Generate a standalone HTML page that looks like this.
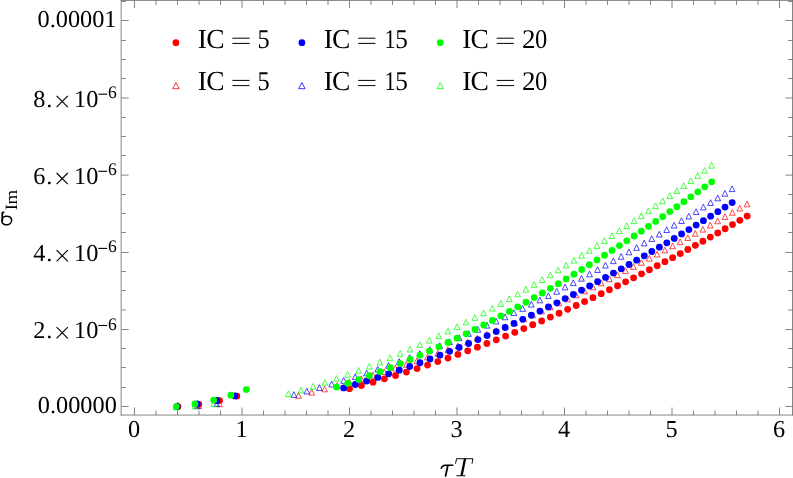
<!DOCTYPE html><html><head><meta charset="utf-8"><title>sigma_Im vs tau T</title><style>html,body{margin:0;padding:0;background:#fff}svg{display:block}svg{will-change:transform}text{text-rendering:geometricPrecision;font-family:"Liberation Serif",serif;fill:#000}</style></head><body>
<svg width="793" height="478" viewBox="0 0 793 478">
<rect width="793" height="478" fill="#fff"/>
<g>
<path d="M177.90 402.35L180.75 408.05L175.05 408.05Z" fill="none" stroke="#ff0000" stroke-width="0.72"/>
<path d="M198.80 402.95L201.65 408.65L195.95 408.65Z" fill="none" stroke="#ff0000" stroke-width="0.72"/>
<path d="M219.50 400.95L222.35 406.65L216.65 406.65Z" fill="none" stroke="#ff0000" stroke-width="0.72"/>
<path d="M298.50 392.64L301.35 398.34L295.65 398.34Z" fill="none" stroke="#ff0000" stroke-width="0.72"/>
<path d="M311.76 389.43L314.61 395.13L308.91 395.13Z" fill="none" stroke="#ff0000" stroke-width="0.72"/>
<path d="M324.65 386.14L327.50 391.84L321.80 391.84Z" fill="none" stroke="#ff0000" stroke-width="0.72"/>
<path d="M337.18 382.78L340.03 388.48L334.33 388.48Z" fill="none" stroke="#ff0000" stroke-width="0.72"/>
<path d="M349.40 379.37L352.25 385.07L346.55 385.07Z" fill="none" stroke="#ff0000" stroke-width="0.72"/>
<path d="M361.31 375.90L364.16 381.60L358.46 381.60Z" fill="none" stroke="#ff0000" stroke-width="0.72"/>
<path d="M372.93 372.39L375.78 378.09L370.08 378.09Z" fill="none" stroke="#ff0000" stroke-width="0.72"/>
<path d="M384.30 368.84L387.15 374.54L381.45 374.54Z" fill="none" stroke="#ff0000" stroke-width="0.72"/>
<path d="M395.41 365.25L398.26 370.95L392.56 370.95Z" fill="none" stroke="#ff0000" stroke-width="0.72"/>
<path d="M406.30 361.62L409.15 367.32L403.45 367.32Z" fill="none" stroke="#ff0000" stroke-width="0.72"/>
<path d="M416.98 357.96L419.83 363.66L414.13 363.66Z" fill="none" stroke="#ff0000" stroke-width="0.72"/>
<path d="M427.45 354.27L430.30 359.97L424.60 359.97Z" fill="none" stroke="#ff0000" stroke-width="0.72"/>
<path d="M437.74 350.56L440.59 356.26L434.89 356.26Z" fill="none" stroke="#ff0000" stroke-width="0.72"/>
<path d="M447.86 346.81L450.71 352.51L445.01 352.51Z" fill="none" stroke="#ff0000" stroke-width="0.72"/>
<path d="M457.82 343.05L460.67 348.75L454.97 348.75Z" fill="none" stroke="#ff0000" stroke-width="0.72"/>
<path d="M467.62 339.25L470.47 344.95L464.77 344.95Z" fill="none" stroke="#ff0000" stroke-width="0.72"/>
<path d="M477.28 335.44L480.13 341.14L474.43 341.14Z" fill="none" stroke="#ff0000" stroke-width="0.72"/>
<path d="M486.80 331.60L489.65 337.30L483.95 337.30Z" fill="none" stroke="#ff0000" stroke-width="0.72"/>
<path d="M496.20 327.74L499.05 333.44L493.35 333.44Z" fill="none" stroke="#ff0000" stroke-width="0.72"/>
<path d="M505.48 323.86L508.33 329.56L502.63 329.56Z" fill="none" stroke="#ff0000" stroke-width="0.72"/>
<path d="M514.65 319.96L517.50 325.66L511.80 325.66Z" fill="none" stroke="#ff0000" stroke-width="0.72"/>
<path d="M523.71 316.04L526.56 321.74L520.86 321.74Z" fill="none" stroke="#ff0000" stroke-width="0.72"/>
<path d="M532.66 312.10L535.51 317.80L529.81 317.80Z" fill="none" stroke="#ff0000" stroke-width="0.72"/>
<path d="M541.53 308.15L544.38 313.85L538.68 313.85Z" fill="none" stroke="#ff0000" stroke-width="0.72"/>
<path d="M550.29 304.17L553.14 309.87L547.44 309.87Z" fill="none" stroke="#ff0000" stroke-width="0.72"/>
<path d="M558.97 300.18L561.82 305.88L556.12 305.88Z" fill="none" stroke="#ff0000" stroke-width="0.72"/>
<path d="M567.56 296.18L570.41 301.88L564.71 301.88Z" fill="none" stroke="#ff0000" stroke-width="0.72"/>
<path d="M576.07 292.16L578.92 297.86L573.22 297.86Z" fill="none" stroke="#ff0000" stroke-width="0.72"/>
<path d="M584.50 288.12L587.35 293.82L581.65 293.82Z" fill="none" stroke="#ff0000" stroke-width="0.72"/>
<path d="M592.85 284.08L595.70 289.78L590.00 289.78Z" fill="none" stroke="#ff0000" stroke-width="0.72"/>
<path d="M601.13 280.02L603.98 285.72L598.28 285.72Z" fill="none" stroke="#ff0000" stroke-width="0.72"/>
<path d="M609.33 275.95L612.18 281.65L606.48 281.65Z" fill="none" stroke="#ff0000" stroke-width="0.72"/>
<path d="M617.46 271.87L620.31 277.57L614.61 277.57Z" fill="none" stroke="#ff0000" stroke-width="0.72"/>
<path d="M625.52 267.77L628.37 273.47L622.67 273.47Z" fill="none" stroke="#ff0000" stroke-width="0.72"/>
<path d="M633.51 263.68L636.36 269.38L630.66 269.38Z" fill="none" stroke="#ff0000" stroke-width="0.72"/>
<path d="M641.44 259.57L644.29 265.27L638.59 265.27Z" fill="none" stroke="#ff0000" stroke-width="0.72"/>
<path d="M649.30 255.45L652.15 261.15L646.45 261.15Z" fill="none" stroke="#ff0000" stroke-width="0.72"/>
<path d="M657.10 251.33L659.95 257.03L654.25 257.03Z" fill="none" stroke="#ff0000" stroke-width="0.72"/>
<path d="M664.84 247.20L667.69 252.90L661.99 252.90Z" fill="none" stroke="#ff0000" stroke-width="0.72"/>
<path d="M672.52 243.06L675.37 248.76L669.67 248.76Z" fill="none" stroke="#ff0000" stroke-width="0.72"/>
<path d="M680.16 238.91L683.01 244.61L677.31 244.61Z" fill="none" stroke="#ff0000" stroke-width="0.72"/>
<path d="M687.73 234.76L690.58 240.46L684.88 240.46Z" fill="none" stroke="#ff0000" stroke-width="0.72"/>
<path d="M695.27 230.60L698.12 236.30L692.42 236.30Z" fill="none" stroke="#ff0000" stroke-width="0.72"/>
<path d="M702.76 226.42L705.61 232.12L699.91 232.12Z" fill="none" stroke="#ff0000" stroke-width="0.72"/>
<path d="M710.21 222.24L713.06 227.94L707.36 227.94Z" fill="none" stroke="#ff0000" stroke-width="0.72"/>
<path d="M717.63 218.04L720.48 223.74L714.78 223.74Z" fill="none" stroke="#ff0000" stroke-width="0.72"/>
<path d="M725.02 213.82L727.87 219.52L722.17 219.52Z" fill="none" stroke="#ff0000" stroke-width="0.72"/>
<path d="M732.39 209.58L735.24 215.28L729.54 215.28Z" fill="none" stroke="#ff0000" stroke-width="0.72"/>
<path d="M739.74 205.33L742.59 211.03L736.89 211.03Z" fill="none" stroke="#ff0000" stroke-width="0.72"/>
<path d="M747.09 201.04L749.94 206.74L744.24 206.74Z" fill="none" stroke="#ff0000" stroke-width="0.72"/>
<path d="M177.20 402.95L180.05 408.65L174.35 408.65Z" fill="none" stroke="#0000ff" stroke-width="0.72"/>
<path d="M197.20 402.95L200.05 408.65L194.35 408.65Z" fill="none" stroke="#0000ff" stroke-width="0.72"/>
<path d="M216.70 400.95L219.55 406.65L213.85 406.65Z" fill="none" stroke="#0000ff" stroke-width="0.72"/>
<path d="M293.89 391.66L296.74 397.36L291.04 397.36Z" fill="none" stroke="#0000ff" stroke-width="0.72"/>
<path d="M306.84 388.26L309.69 393.96L303.99 393.96Z" fill="none" stroke="#0000ff" stroke-width="0.72"/>
<path d="M319.43 384.77L322.28 390.47L316.58 390.47Z" fill="none" stroke="#0000ff" stroke-width="0.72"/>
<path d="M331.68 381.21L334.53 386.91L328.83 386.91Z" fill="none" stroke="#0000ff" stroke-width="0.72"/>
<path d="M343.61 377.58L346.46 383.28L340.76 383.28Z" fill="none" stroke="#0000ff" stroke-width="0.72"/>
<path d="M355.24 373.89L358.09 379.59L352.39 379.59Z" fill="none" stroke="#0000ff" stroke-width="0.72"/>
<path d="M366.60 370.15L369.45 375.85L363.75 375.85Z" fill="none" stroke="#0000ff" stroke-width="0.72"/>
<path d="M377.70 366.36L380.55 372.06L374.85 372.06Z" fill="none" stroke="#0000ff" stroke-width="0.72"/>
<path d="M388.56 362.53L391.41 368.23L385.71 368.23Z" fill="none" stroke="#0000ff" stroke-width="0.72"/>
<path d="M399.20 358.66L402.05 364.36L396.35 364.36Z" fill="none" stroke="#0000ff" stroke-width="0.72"/>
<path d="M409.63 354.76L412.48 360.46L406.78 360.46Z" fill="none" stroke="#0000ff" stroke-width="0.72"/>
<path d="M419.86 350.82L422.71 356.52L417.01 356.52Z" fill="none" stroke="#0000ff" stroke-width="0.72"/>
<path d="M429.92 346.85L432.77 352.55L427.07 352.55Z" fill="none" stroke="#0000ff" stroke-width="0.72"/>
<path d="M439.80 342.84L442.65 348.54L436.95 348.54Z" fill="none" stroke="#0000ff" stroke-width="0.72"/>
<path d="M449.52 338.81L452.37 344.51L446.67 344.51Z" fill="none" stroke="#0000ff" stroke-width="0.72"/>
<path d="M459.10 334.75L461.95 340.45L456.25 340.45Z" fill="none" stroke="#0000ff" stroke-width="0.72"/>
<path d="M468.53 330.67L471.38 336.37L465.68 336.37Z" fill="none" stroke="#0000ff" stroke-width="0.72"/>
<path d="M477.84 326.55L480.69 332.25L474.99 332.25Z" fill="none" stroke="#0000ff" stroke-width="0.72"/>
<path d="M487.02 322.42L489.87 328.12L484.17 328.12Z" fill="none" stroke="#0000ff" stroke-width="0.72"/>
<path d="M496.09 318.26L498.94 323.96L493.24 323.96Z" fill="none" stroke="#0000ff" stroke-width="0.72"/>
<path d="M505.04 314.07L507.89 319.77L502.19 319.77Z" fill="none" stroke="#0000ff" stroke-width="0.72"/>
<path d="M513.89 309.86L516.74 315.56L511.04 315.56Z" fill="none" stroke="#0000ff" stroke-width="0.72"/>
<path d="M522.64 305.64L525.49 311.34L519.79 311.34Z" fill="none" stroke="#0000ff" stroke-width="0.72"/>
<path d="M531.30 301.39L534.15 307.09L528.45 307.09Z" fill="none" stroke="#0000ff" stroke-width="0.72"/>
<path d="M539.86 297.12L542.71 302.82L537.01 302.82Z" fill="none" stroke="#0000ff" stroke-width="0.72"/>
<path d="M548.34 292.83L551.19 298.53L545.49 298.53Z" fill="none" stroke="#0000ff" stroke-width="0.72"/>
<path d="M556.74 288.52L559.59 294.22L553.89 294.22Z" fill="none" stroke="#0000ff" stroke-width="0.72"/>
<path d="M565.05 284.20L567.90 289.90L562.20 289.90Z" fill="none" stroke="#0000ff" stroke-width="0.72"/>
<path d="M573.28 279.86L576.13 285.56L570.43 285.56Z" fill="none" stroke="#0000ff" stroke-width="0.72"/>
<path d="M581.44 275.50L584.29 281.20L578.59 281.20Z" fill="none" stroke="#0000ff" stroke-width="0.72"/>
<path d="M589.52 271.13L592.37 276.83L586.67 276.83Z" fill="none" stroke="#0000ff" stroke-width="0.72"/>
<path d="M597.54 266.75L600.39 272.45L594.69 272.45Z" fill="none" stroke="#0000ff" stroke-width="0.72"/>
<path d="M605.48 262.36L608.33 268.06L602.63 268.06Z" fill="none" stroke="#0000ff" stroke-width="0.72"/>
<path d="M613.35 257.95L616.20 263.65L610.50 263.65Z" fill="none" stroke="#0000ff" stroke-width="0.72"/>
<path d="M621.16 253.53L624.01 259.23L618.31 259.23Z" fill="none" stroke="#0000ff" stroke-width="0.72"/>
<path d="M628.90 249.10L631.75 254.80L626.05 254.80Z" fill="none" stroke="#0000ff" stroke-width="0.72"/>
<path d="M636.58 244.66L639.43 250.36L633.73 250.36Z" fill="none" stroke="#0000ff" stroke-width="0.72"/>
<path d="M644.20 240.22L647.05 245.92L641.35 245.92Z" fill="none" stroke="#0000ff" stroke-width="0.72"/>
<path d="M651.76 235.76L654.61 241.46L648.91 241.46Z" fill="none" stroke="#0000ff" stroke-width="0.72"/>
<path d="M659.27 231.29L662.12 236.99L656.42 236.99Z" fill="none" stroke="#0000ff" stroke-width="0.72"/>
<path d="M666.72 226.82L669.57 232.52L663.87 232.52Z" fill="none" stroke="#0000ff" stroke-width="0.72"/>
<path d="M674.13 222.33L676.98 228.03L671.28 228.03Z" fill="none" stroke="#0000ff" stroke-width="0.72"/>
<path d="M681.49 217.83L684.34 223.53L678.64 223.53Z" fill="none" stroke="#0000ff" stroke-width="0.72"/>
<path d="M688.80 213.33L691.65 219.03L685.95 219.03Z" fill="none" stroke="#0000ff" stroke-width="0.72"/>
<path d="M696.08 208.80L698.93 214.50L693.23 214.50Z" fill="none" stroke="#0000ff" stroke-width="0.72"/>
<path d="M703.33 204.26L706.18 209.96L700.48 209.96Z" fill="none" stroke="#0000ff" stroke-width="0.72"/>
<path d="M710.55 199.70L713.40 205.40L707.70 205.40Z" fill="none" stroke="#0000ff" stroke-width="0.72"/>
<path d="M717.75 195.12L720.60 200.82L714.90 200.82Z" fill="none" stroke="#0000ff" stroke-width="0.72"/>
<path d="M724.93 190.52L727.78 196.22L722.08 196.22Z" fill="none" stroke="#0000ff" stroke-width="0.72"/>
<path d="M732.11 185.88L734.96 191.58L729.26 191.58Z" fill="none" stroke="#0000ff" stroke-width="0.72"/>
<path d="M176.30 404.25L179.15 409.95L173.45 409.95Z" fill="none" stroke="#00ff00" stroke-width="0.72"/>
<path d="M194.90 402.95L197.75 408.65L192.05 408.65Z" fill="none" stroke="#00ff00" stroke-width="0.72"/>
<path d="M213.70 400.95L216.55 406.65L210.85 406.65Z" fill="none" stroke="#00ff00" stroke-width="0.72"/>
<path d="M288.41 390.86L291.26 396.56L285.56 396.56Z" fill="none" stroke="#00ff00" stroke-width="0.72"/>
<path d="M300.92 387.22L303.77 392.92L298.07 392.92Z" fill="none" stroke="#00ff00" stroke-width="0.72"/>
<path d="M313.07 383.47L315.92 389.17L310.22 389.17Z" fill="none" stroke="#00ff00" stroke-width="0.72"/>
<path d="M324.90 379.61L327.75 385.31L322.05 385.31Z" fill="none" stroke="#00ff00" stroke-width="0.72"/>
<path d="M336.42 375.66L339.27 381.36L333.57 381.36Z" fill="none" stroke="#00ff00" stroke-width="0.72"/>
<path d="M347.65 371.64L350.50 377.34L344.80 377.34Z" fill="none" stroke="#00ff00" stroke-width="0.72"/>
<path d="M358.62 367.55L361.47 373.25L355.77 373.25Z" fill="none" stroke="#00ff00" stroke-width="0.72"/>
<path d="M369.34 363.39L372.19 369.09L366.49 369.09Z" fill="none" stroke="#00ff00" stroke-width="0.72"/>
<path d="M379.83 359.17L382.68 364.87L376.98 364.87Z" fill="none" stroke="#00ff00" stroke-width="0.72"/>
<path d="M390.10 354.91L392.95 360.61L387.25 360.61Z" fill="none" stroke="#00ff00" stroke-width="0.72"/>
<path d="M400.17 350.59L403.02 356.29L397.32 356.29Z" fill="none" stroke="#00ff00" stroke-width="0.72"/>
<path d="M410.05 346.23L412.90 351.93L407.20 351.93Z" fill="none" stroke="#00ff00" stroke-width="0.72"/>
<path d="M419.76 341.83L422.61 347.53L416.91 347.53Z" fill="none" stroke="#00ff00" stroke-width="0.72"/>
<path d="M429.30 337.39L432.15 343.09L426.45 343.09Z" fill="none" stroke="#00ff00" stroke-width="0.72"/>
<path d="M438.69 332.91L441.54 338.61L435.84 338.61Z" fill="none" stroke="#00ff00" stroke-width="0.72"/>
<path d="M447.94 328.39L450.79 334.09L445.09 334.09Z" fill="none" stroke="#00ff00" stroke-width="0.72"/>
<path d="M457.05 323.85L459.90 329.55L454.20 329.55Z" fill="none" stroke="#00ff00" stroke-width="0.72"/>
<path d="M466.04 319.27L468.89 324.97L463.19 324.97Z" fill="none" stroke="#00ff00" stroke-width="0.72"/>
<path d="M474.90 314.66L477.75 320.36L472.05 320.36Z" fill="none" stroke="#00ff00" stroke-width="0.72"/>
<path d="M483.66 310.02L486.51 315.72L480.81 315.72Z" fill="none" stroke="#00ff00" stroke-width="0.72"/>
<path d="M492.30 305.35L495.15 311.05L489.45 311.05Z" fill="none" stroke="#00ff00" stroke-width="0.72"/>
<path d="M500.85 300.66L503.70 306.36L498.00 306.36Z" fill="none" stroke="#00ff00" stroke-width="0.72"/>
<path d="M509.30 295.94L512.15 301.64L506.45 301.64Z" fill="none" stroke="#00ff00" stroke-width="0.72"/>
<path d="M517.66 291.20L520.51 296.90L514.81 296.90Z" fill="none" stroke="#00ff00" stroke-width="0.72"/>
<path d="M525.93 286.43L528.78 292.13L523.08 292.13Z" fill="none" stroke="#00ff00" stroke-width="0.72"/>
<path d="M534.12 281.64L536.97 287.34L531.27 287.34Z" fill="none" stroke="#00ff00" stroke-width="0.72"/>
<path d="M542.22 276.83L545.07 282.53L539.37 282.53Z" fill="none" stroke="#00ff00" stroke-width="0.72"/>
<path d="M550.25 272.00L553.10 277.70L547.40 277.70Z" fill="none" stroke="#00ff00" stroke-width="0.72"/>
<path d="M558.20 267.15L561.05 272.85L555.35 272.85Z" fill="none" stroke="#00ff00" stroke-width="0.72"/>
<path d="M566.08 262.29L568.93 267.99L563.23 267.99Z" fill="none" stroke="#00ff00" stroke-width="0.72"/>
<path d="M573.88 257.41L576.73 263.11L571.03 263.11Z" fill="none" stroke="#00ff00" stroke-width="0.72"/>
<path d="M581.62 252.51L584.47 258.21L578.77 258.21Z" fill="none" stroke="#00ff00" stroke-width="0.72"/>
<path d="M589.29 247.60L592.14 253.30L586.44 253.30Z" fill="none" stroke="#00ff00" stroke-width="0.72"/>
<path d="M596.89 242.68L599.74 248.38L594.04 248.38Z" fill="none" stroke="#00ff00" stroke-width="0.72"/>
<path d="M604.43 237.75L607.28 243.45L601.58 243.45Z" fill="none" stroke="#00ff00" stroke-width="0.72"/>
<path d="M611.91 232.81L614.76 238.51L609.06 238.51Z" fill="none" stroke="#00ff00" stroke-width="0.72"/>
<path d="M619.32 227.86L622.17 233.56L616.47 233.56Z" fill="none" stroke="#00ff00" stroke-width="0.72"/>
<path d="M626.68 222.89L629.53 228.59L623.83 228.59Z" fill="none" stroke="#00ff00" stroke-width="0.72"/>
<path d="M633.98 217.92L636.83 223.62L631.13 223.62Z" fill="none" stroke="#00ff00" stroke-width="0.72"/>
<path d="M641.23 212.95L644.08 218.65L638.38 218.65Z" fill="none" stroke="#00ff00" stroke-width="0.72"/>
<path d="M648.43 207.96L651.28 213.66L645.58 213.66Z" fill="none" stroke="#00ff00" stroke-width="0.72"/>
<path d="M655.58 202.96L658.43 208.66L652.73 208.66Z" fill="none" stroke="#00ff00" stroke-width="0.72"/>
<path d="M662.68 197.95L665.53 203.65L659.83 203.65Z" fill="none" stroke="#00ff00" stroke-width="0.72"/>
<path d="M669.75 192.93L672.60 198.63L666.90 198.63Z" fill="none" stroke="#00ff00" stroke-width="0.72"/>
<path d="M676.78 187.90L679.63 193.60L673.93 193.60Z" fill="none" stroke="#00ff00" stroke-width="0.72"/>
<path d="M683.77 182.85L686.62 188.55L680.92 188.55Z" fill="none" stroke="#00ff00" stroke-width="0.72"/>
<path d="M690.75 177.78L693.60 183.48L687.90 183.48Z" fill="none" stroke="#00ff00" stroke-width="0.72"/>
<path d="M697.70 172.69L700.55 178.39L694.85 178.39Z" fill="none" stroke="#00ff00" stroke-width="0.72"/>
<path d="M704.63 167.57L707.48 173.27L701.78 173.27Z" fill="none" stroke="#00ff00" stroke-width="0.72"/>
<path d="M711.57 162.43L714.42 168.13L708.72 168.13Z" fill="none" stroke="#00ff00" stroke-width="0.72"/>
<circle cx="177.90" cy="406.60" r="3.4" fill="#ff0000"/>
<circle cx="198.80" cy="404.30" r="3.4" fill="#ff0000"/>
<circle cx="219.50" cy="400.60" r="3.4" fill="#ff0000"/>
<circle cx="236.80" cy="396.10" r="3.4" fill="#ff0000"/>
<circle cx="349.50" cy="388.71" r="3.4" fill="#ff0000"/>
<circle cx="361.41" cy="385.48" r="3.4" fill="#ff0000"/>
<circle cx="373.03" cy="382.20" r="3.4" fill="#ff0000"/>
<circle cx="384.40" cy="378.87" r="3.4" fill="#ff0000"/>
<circle cx="395.51" cy="375.49" r="3.4" fill="#ff0000"/>
<circle cx="406.40" cy="372.07" r="3.4" fill="#ff0000"/>
<circle cx="417.08" cy="368.62" r="3.4" fill="#ff0000"/>
<circle cx="427.55" cy="365.12" r="3.4" fill="#ff0000"/>
<circle cx="437.84" cy="361.59" r="3.4" fill="#ff0000"/>
<circle cx="447.96" cy="358.03" r="3.4" fill="#ff0000"/>
<circle cx="457.92" cy="354.44" r="3.4" fill="#ff0000"/>
<circle cx="467.72" cy="350.83" r="3.4" fill="#ff0000"/>
<circle cx="477.38" cy="347.18" r="3.4" fill="#ff0000"/>
<circle cx="486.90" cy="343.50" r="3.4" fill="#ff0000"/>
<circle cx="496.30" cy="339.80" r="3.4" fill="#ff0000"/>
<circle cx="505.58" cy="336.08" r="3.4" fill="#ff0000"/>
<circle cx="514.75" cy="332.33" r="3.4" fill="#ff0000"/>
<circle cx="523.81" cy="328.56" r="3.4" fill="#ff0000"/>
<circle cx="532.76" cy="324.76" r="3.4" fill="#ff0000"/>
<circle cx="541.63" cy="320.94" r="3.4" fill="#ff0000"/>
<circle cx="550.39" cy="317.11" r="3.4" fill="#ff0000"/>
<circle cx="559.07" cy="313.25" r="3.4" fill="#ff0000"/>
<circle cx="567.66" cy="309.37" r="3.4" fill="#ff0000"/>
<circle cx="576.17" cy="305.48" r="3.4" fill="#ff0000"/>
<circle cx="584.60" cy="301.56" r="3.4" fill="#ff0000"/>
<circle cx="592.95" cy="297.64" r="3.4" fill="#ff0000"/>
<circle cx="601.23" cy="293.69" r="3.4" fill="#ff0000"/>
<circle cx="609.43" cy="289.74" r="3.4" fill="#ff0000"/>
<circle cx="617.56" cy="285.77" r="3.4" fill="#ff0000"/>
<circle cx="625.62" cy="281.78" r="3.4" fill="#ff0000"/>
<circle cx="633.61" cy="277.79" r="3.4" fill="#ff0000"/>
<circle cx="641.54" cy="273.78" r="3.4" fill="#ff0000"/>
<circle cx="649.40" cy="269.77" r="3.4" fill="#ff0000"/>
<circle cx="657.20" cy="265.74" r="3.4" fill="#ff0000"/>
<circle cx="664.94" cy="261.70" r="3.4" fill="#ff0000"/>
<circle cx="672.62" cy="257.66" r="3.4" fill="#ff0000"/>
<circle cx="680.26" cy="253.60" r="3.4" fill="#ff0000"/>
<circle cx="687.83" cy="249.49" r="3.4" fill="#ff0000"/>
<circle cx="695.37" cy="245.37" r="3.4" fill="#ff0000"/>
<circle cx="702.86" cy="241.24" r="3.4" fill="#ff0000"/>
<circle cx="710.31" cy="237.09" r="3.4" fill="#ff0000"/>
<circle cx="717.73" cy="232.94" r="3.4" fill="#ff0000"/>
<circle cx="725.12" cy="228.76" r="3.4" fill="#ff0000"/>
<circle cx="732.49" cy="224.56" r="3.4" fill="#ff0000"/>
<circle cx="739.84" cy="220.33" r="3.4" fill="#ff0000"/>
<circle cx="747.19" cy="216.07" r="3.4" fill="#ff0000"/>
<circle cx="177.20" cy="406.60" r="3.4" fill="#0000ff"/>
<circle cx="197.20" cy="404.00" r="3.4" fill="#0000ff"/>
<circle cx="216.70" cy="400.50" r="3.4" fill="#0000ff"/>
<circle cx="234.90" cy="395.90" r="3.4" fill="#0000ff"/>
<circle cx="343.71" cy="387.93" r="3.4" fill="#0000ff"/>
<circle cx="355.34" cy="384.51" r="3.4" fill="#0000ff"/>
<circle cx="366.70" cy="381.01" r="3.4" fill="#0000ff"/>
<circle cx="377.80" cy="377.46" r="3.4" fill="#0000ff"/>
<circle cx="388.66" cy="373.85" r="3.4" fill="#0000ff"/>
<circle cx="399.30" cy="370.20" r="3.4" fill="#0000ff"/>
<circle cx="409.73" cy="366.50" r="3.4" fill="#0000ff"/>
<circle cx="419.96" cy="362.75" r="3.4" fill="#0000ff"/>
<circle cx="430.02" cy="358.97" r="3.4" fill="#0000ff"/>
<circle cx="439.90" cy="355.15" r="3.4" fill="#0000ff"/>
<circle cx="449.62" cy="351.30" r="3.4" fill="#0000ff"/>
<circle cx="459.20" cy="347.41" r="3.4" fill="#0000ff"/>
<circle cx="468.63" cy="343.49" r="3.4" fill="#0000ff"/>
<circle cx="477.94" cy="339.54" r="3.4" fill="#0000ff"/>
<circle cx="487.12" cy="335.56" r="3.4" fill="#0000ff"/>
<circle cx="496.19" cy="331.55" r="3.4" fill="#0000ff"/>
<circle cx="505.14" cy="327.51" r="3.4" fill="#0000ff"/>
<circle cx="513.99" cy="323.45" r="3.4" fill="#0000ff"/>
<circle cx="522.74" cy="319.36" r="3.4" fill="#0000ff"/>
<circle cx="531.40" cy="315.25" r="3.4" fill="#0000ff"/>
<circle cx="539.96" cy="311.12" r="3.4" fill="#0000ff"/>
<circle cx="548.44" cy="306.97" r="3.4" fill="#0000ff"/>
<circle cx="556.84" cy="302.79" r="3.4" fill="#0000ff"/>
<circle cx="565.15" cy="298.60" r="3.4" fill="#0000ff"/>
<circle cx="573.38" cy="294.39" r="3.4" fill="#0000ff"/>
<circle cx="581.54" cy="290.16" r="3.4" fill="#0000ff"/>
<circle cx="589.62" cy="285.91" r="3.4" fill="#0000ff"/>
<circle cx="597.64" cy="281.65" r="3.4" fill="#0000ff"/>
<circle cx="605.58" cy="277.38" r="3.4" fill="#0000ff"/>
<circle cx="613.45" cy="273.09" r="3.4" fill="#0000ff"/>
<circle cx="621.26" cy="268.80" r="3.4" fill="#0000ff"/>
<circle cx="629.00" cy="264.49" r="3.4" fill="#0000ff"/>
<circle cx="636.68" cy="260.17" r="3.4" fill="#0000ff"/>
<circle cx="644.30" cy="255.84" r="3.4" fill="#0000ff"/>
<circle cx="651.86" cy="251.50" r="3.4" fill="#0000ff"/>
<circle cx="659.37" cy="247.15" r="3.4" fill="#0000ff"/>
<circle cx="666.82" cy="242.79" r="3.4" fill="#0000ff"/>
<circle cx="674.23" cy="238.38" r="3.4" fill="#0000ff"/>
<circle cx="681.59" cy="233.96" r="3.4" fill="#0000ff"/>
<circle cx="688.90" cy="229.53" r="3.4" fill="#0000ff"/>
<circle cx="696.18" cy="225.08" r="3.4" fill="#0000ff"/>
<circle cx="703.43" cy="220.63" r="3.4" fill="#0000ff"/>
<circle cx="710.65" cy="216.15" r="3.4" fill="#0000ff"/>
<circle cx="717.85" cy="211.65" r="3.4" fill="#0000ff"/>
<circle cx="725.03" cy="207.12" r="3.4" fill="#0000ff"/>
<circle cx="732.21" cy="202.56" r="3.4" fill="#0000ff"/>
<circle cx="176.30" cy="406.60" r="3.4" fill="#00ff00"/>
<circle cx="194.90" cy="403.90" r="3.4" fill="#00ff00"/>
<circle cx="213.70" cy="400.10" r="3.4" fill="#00ff00"/>
<circle cx="230.80" cy="395.20" r="3.4" fill="#00ff00"/>
<circle cx="246.30" cy="389.60" r="3.4" fill="#00ff00"/>
<circle cx="336.52" cy="387.07" r="3.4" fill="#00ff00"/>
<circle cx="347.75" cy="383.34" r="3.4" fill="#00ff00"/>
<circle cx="358.72" cy="379.53" r="3.4" fill="#00ff00"/>
<circle cx="369.44" cy="375.65" r="3.4" fill="#00ff00"/>
<circle cx="379.93" cy="371.69" r="3.4" fill="#00ff00"/>
<circle cx="390.20" cy="367.68" r="3.4" fill="#00ff00"/>
<circle cx="400.27" cy="363.61" r="3.4" fill="#00ff00"/>
<circle cx="410.15" cy="359.48" r="3.4" fill="#00ff00"/>
<circle cx="419.86" cy="355.31" r="3.4" fill="#00ff00"/>
<circle cx="429.40" cy="351.09" r="3.4" fill="#00ff00"/>
<circle cx="438.79" cy="346.82" r="3.4" fill="#00ff00"/>
<circle cx="448.04" cy="342.52" r="3.4" fill="#00ff00"/>
<circle cx="457.15" cy="338.18" r="3.4" fill="#00ff00"/>
<circle cx="466.14" cy="333.80" r="3.4" fill="#00ff00"/>
<circle cx="475.00" cy="329.38" r="3.4" fill="#00ff00"/>
<circle cx="483.76" cy="324.93" r="3.4" fill="#00ff00"/>
<circle cx="492.40" cy="320.45" r="3.4" fill="#00ff00"/>
<circle cx="500.95" cy="315.94" r="3.4" fill="#00ff00"/>
<circle cx="509.40" cy="311.40" r="3.4" fill="#00ff00"/>
<circle cx="517.76" cy="306.83" r="3.4" fill="#00ff00"/>
<circle cx="526.03" cy="302.24" r="3.4" fill="#00ff00"/>
<circle cx="534.22" cy="297.62" r="3.4" fill="#00ff00"/>
<circle cx="542.32" cy="292.98" r="3.4" fill="#00ff00"/>
<circle cx="550.35" cy="288.32" r="3.4" fill="#00ff00"/>
<circle cx="558.30" cy="283.64" r="3.4" fill="#00ff00"/>
<circle cx="566.18" cy="278.93" r="3.4" fill="#00ff00"/>
<circle cx="573.98" cy="274.21" r="3.4" fill="#00ff00"/>
<circle cx="581.72" cy="269.48" r="3.4" fill="#00ff00"/>
<circle cx="589.39" cy="264.73" r="3.4" fill="#00ff00"/>
<circle cx="596.99" cy="259.96" r="3.4" fill="#00ff00"/>
<circle cx="604.53" cy="255.19" r="3.4" fill="#00ff00"/>
<circle cx="612.01" cy="250.40" r="3.4" fill="#00ff00"/>
<circle cx="619.42" cy="245.60" r="3.4" fill="#00ff00"/>
<circle cx="626.78" cy="240.79" r="3.4" fill="#00ff00"/>
<circle cx="634.08" cy="235.98" r="3.4" fill="#00ff00"/>
<circle cx="641.33" cy="231.15" r="3.4" fill="#00ff00"/>
<circle cx="648.53" cy="226.31" r="3.4" fill="#00ff00"/>
<circle cx="655.68" cy="221.43" r="3.4" fill="#00ff00"/>
<circle cx="662.78" cy="216.53" r="3.4" fill="#00ff00"/>
<circle cx="669.85" cy="211.62" r="3.4" fill="#00ff00"/>
<circle cx="676.88" cy="206.70" r="3.4" fill="#00ff00"/>
<circle cx="683.87" cy="201.77" r="3.4" fill="#00ff00"/>
<circle cx="690.85" cy="196.81" r="3.4" fill="#00ff00"/>
<circle cx="697.80" cy="191.83" r="3.4" fill="#00ff00"/>
<circle cx="704.73" cy="186.83" r="3.4" fill="#00ff00"/>
<circle cx="711.67" cy="181.79" r="3.4" fill="#00ff00"/>
</g>
<g stroke="#666" stroke-width="0.8" fill="none">
<path d="M121.15 0V415.45M792.5 0V415.45M120.8 0.45H793M120.8 415.05H793" stroke-width="0.8"/>
<path d="M134.50 415.0v-7.5M134.50 0.5v7.5M156.00 415.0v-4.5M156.00 0.5v4.5M177.50 415.0v-4.5M177.50 0.5v4.5M199.00 415.0v-4.5M199.00 0.5v4.5M220.50 415.0v-4.5M220.50 0.5v4.5M242.00 415.0v-7.5M242.00 0.5v7.5M263.50 415.0v-4.5M263.50 0.5v4.5M285.00 415.0v-4.5M285.00 0.5v4.5M306.50 415.0v-4.5M306.50 0.5v4.5M328.00 415.0v-4.5M328.00 0.5v4.5M349.50 415.0v-7.5M349.50 0.5v7.5M371.00 415.0v-4.5M371.00 0.5v4.5M392.50 415.0v-4.5M392.50 0.5v4.5M414.00 415.0v-4.5M414.00 0.5v4.5M435.50 415.0v-4.5M435.50 0.5v4.5M457.00 415.0v-7.5M457.00 0.5v7.5M478.50 415.0v-4.5M478.50 0.5v4.5M500.00 415.0v-4.5M500.00 0.5v4.5M521.50 415.0v-4.5M521.50 0.5v4.5M543.00 415.0v-4.5M543.00 0.5v4.5M564.50 415.0v-7.5M564.50 0.5v7.5M586.00 415.0v-4.5M586.00 0.5v4.5M607.50 415.0v-4.5M607.50 0.5v4.5M629.00 415.0v-4.5M629.00 0.5v4.5M650.50 415.0v-4.5M650.50 0.5v4.5M672.00 415.0v-7.5M672.00 0.5v7.5M693.50 415.0v-4.5M693.50 0.5v4.5M715.00 415.0v-4.5M715.00 0.5v4.5M736.50 415.0v-4.5M736.50 0.5v4.5M758.00 415.0v-4.5M758.00 0.5v4.5M779.50 415.0v-7.5M779.50 0.5v7.5M121.5 406.50h7.2M792.5 406.50h-7.2M121.5 387.50h4.3M792.5 387.50h-4.3M121.5 367.50h4.3M792.5 367.50h-4.3M121.5 348.50h4.3M792.5 348.50h-4.3M121.5 329.50h7.2M792.5 329.50h-7.2M121.5 310.02h4.3M792.5 310.02h-4.3M121.5 290.50h4.3M792.5 290.50h-4.3M121.5 271.50h4.3M792.5 271.50h-4.3M121.5 252.50h7.2M792.5 252.50h-7.2M121.5 232.50h4.3M792.5 232.50h-4.3M121.5 213.50h4.3M792.5 213.50h-4.3M121.5 194.50h4.3M792.5 194.50h-4.3M121.5 175.10h7.2M792.5 175.10h-7.2M121.5 155.50h4.3M792.5 155.50h-4.3M121.5 136.50h4.3M792.5 136.50h-4.3M121.5 117.50h4.3M792.5 117.50h-4.3M121.5 98.00h7.2M792.5 98.00h-7.2M121.5 78.50h4.3M792.5 78.50h-4.3M121.5 59.50h4.3M792.5 59.50h-4.3M121.5 40.50h4.3M792.5 40.50h-4.3M121.5 20.50h7.2M792.5 20.50h-7.2M121.5 1.50h4.3M792.5 1.50h-4.3" stroke-width="0.8"/>
</g>
<text x="134.2" y="437.3" font-size="24.3" text-anchor="middle">0</text>
<text x="241.7" y="437.3" font-size="24.3" text-anchor="middle">1</text>
<text x="349.2" y="437.3" font-size="24.3" text-anchor="middle">2</text>
<text x="456.7" y="437.3" font-size="24.3" text-anchor="middle">3</text>
<text x="564.2" y="437.3" font-size="24.3" text-anchor="middle">4</text>
<text x="671.7" y="437.3" font-size="24.3" text-anchor="middle">5</text>
<text x="779.2" y="437.3" font-size="24.3" text-anchor="middle">6</text>
<text x="116.5" y="27.0" font-size="24.3" text-anchor="end">0.00001</text>
<text x="116.8" y="412.8" font-size="24.3" text-anchor="end">0.00000</text>
<text x="33.2" y="338.4" font-size="24.3" letter-spacing="0.9">2.</text>
<path d="M56.6 327.2L67.8 338.4M67.8 327.2L56.6 338.4" stroke="#000" stroke-width="1.15" fill="none"/>
<text x="74.0" y="338.4" font-size="24.3">10</text>
<path d="M98.3 325.5h8.9" stroke="#000" stroke-width="1.1" fill="none"/>
<text x="107.9" y="329.5" font-size="17.6">6</text>
<text x="33.2" y="261.3" font-size="24.3" letter-spacing="0.9">4.</text>
<path d="M56.6 250.1L67.8 261.3M67.8 250.1L56.6 261.3" stroke="#000" stroke-width="1.15" fill="none"/>
<text x="74.0" y="261.3" font-size="24.3">10</text>
<path d="M98.3 248.4h8.9" stroke="#000" stroke-width="1.1" fill="none"/>
<text x="107.9" y="252.4" font-size="17.6">6</text>
<text x="33.2" y="184.2" font-size="24.3" letter-spacing="0.9">6.</text>
<path d="M56.6 173.0L67.8 184.2M67.8 173.0L56.6 184.2" stroke="#000" stroke-width="1.15" fill="none"/>
<text x="74.0" y="184.2" font-size="24.3">10</text>
<path d="M98.3 171.3h8.9" stroke="#000" stroke-width="1.1" fill="none"/>
<text x="107.9" y="175.3" font-size="17.6">6</text>
<text x="33.2" y="107.1" font-size="24.3" letter-spacing="0.9">8.</text>
<path d="M56.6 95.9L67.8 107.1M67.8 95.9L56.6 107.1" stroke="#000" stroke-width="1.15" fill="none"/>
<text x="74.0" y="107.1" font-size="24.3">10</text>
<path d="M98.3 94.2h8.9" stroke="#000" stroke-width="1.1" fill="none"/>
<text x="107.9" y="98.2" font-size="17.6">6</text>
<circle cx="175.9" cy="42.7" r="3.35" fill="#ff0000"/>
<text transform="translate(197.85,47.8) scale(1.0,1)" font-size="27.5">I</text>
<text transform="translate(206.25,47.8) scale(1.0,1)" font-size="27.5">C</text>
<path d="M232.4 38.2h17.2M232.4 43.4h17.2" stroke="#000" stroke-width="1.0" fill="none"/>
<text transform="translate(257.50,47.8) scale(0.9,1)" font-size="27">5</text>
<path d="M175.9 82.60000000000001L179.1 88.7L172.70000000000002 88.7Z" fill="none" stroke="#ff0000" stroke-width="0.8"/>
<text transform="translate(197.85,90.0) scale(1.0,1)" font-size="27.5">I</text>
<text transform="translate(206.25,90.0) scale(1.0,1)" font-size="27.5">C</text>
<path d="M232.4 80.4h17.2M232.4 85.6h17.2" stroke="#000" stroke-width="1.0" fill="none"/>
<text transform="translate(257.50,90.0) scale(0.9,1)" font-size="27">5</text>
<circle cx="301.9" cy="42.7" r="3.35" fill="#0000ff"/>
<text transform="translate(323.65,47.8) scale(1.0,1)" font-size="27.5">I</text>
<text transform="translate(332.05,47.8) scale(1.0,1)" font-size="27.5">C</text>
<path d="M358.2 38.2h17.2M358.2 43.4h17.2" stroke="#000" stroke-width="1.0" fill="none"/>
<text transform="translate(384.50,47.8) scale(0.82,1)" font-size="27">1</text>
<text transform="translate(395.30,47.8) scale(0.935,1)" font-size="27">5</text>
<path d="M301.9 82.60000000000001L305.09999999999997 88.7L298.7 88.7Z" fill="none" stroke="#0000ff" stroke-width="0.8"/>
<text transform="translate(323.65,90.0) scale(1.0,1)" font-size="27.5">I</text>
<text transform="translate(332.05,90.0) scale(1.0,1)" font-size="27.5">C</text>
<path d="M358.2 80.4h17.2M358.2 85.6h17.2" stroke="#000" stroke-width="1.0" fill="none"/>
<text transform="translate(384.50,90.0) scale(0.82,1)" font-size="27">1</text>
<text transform="translate(395.30,90.0) scale(0.935,1)" font-size="27">5</text>
<circle cx="440.2" cy="42.7" r="3.35" fill="#00ff00"/>
<text transform="translate(462.15,47.8) scale(1.0,1)" font-size="27.5">I</text>
<text transform="translate(470.55,47.8) scale(1.0,1)" font-size="27.5">C</text>
<path d="M496.7 38.2h17.2M496.7 43.4h17.2" stroke="#000" stroke-width="1.0" fill="none"/>
<text transform="translate(522.00,47.8) scale(1.0,1)" font-size="27">2</text>
<text transform="translate(535.10,47.8) scale(0.91,1)" font-size="27">0</text>
<path d="M440.2 82.60000000000001L443.4 88.7L437.0 88.7Z" fill="none" stroke="#00ff00" stroke-width="0.8"/>
<text transform="translate(462.15,90.0) scale(1.0,1)" font-size="27.5">I</text>
<text transform="translate(470.55,90.0) scale(1.0,1)" font-size="27.5">C</text>
<path d="M496.7 80.4h17.2M496.7 85.6h17.2" stroke="#000" stroke-width="1.0" fill="none"/>
<text transform="translate(522.00,90.0) scale(1.0,1)" font-size="27">2</text>
<text transform="translate(535.10,90.0) scale(0.91,1)" font-size="27">0</text>
<g stroke="#000" fill="none" stroke-linejoin="round"><path d="M440.9 468.8C441.7 466.7 443.0 465.4 445.2 465.3L453.3 465.2" stroke-width="1.45"/><path d="M447.8 465.6L445.6 475.9" stroke-width="1.8" stroke-linecap="round"/><path d="M455.5 463.7L456.6 458.7H472.9L472.0 463.7" stroke-width="0.95"/><path d="M465.0 458.8L461.6 475.5" stroke-width="2.3"/><path d="M456.4 475.75H465.4" stroke-width="1.0"/></g>
<g stroke="#000" fill="none" stroke-linecap="round"><ellipse cx="6.7" cy="220.5" rx="4.95" ry="4.3" stroke-width="1.55" transform="rotate(-12 6.7 220.5)"/><path d="M2.3 220.5V213.3C2.3 212.6 2.8 212.3 3.6 212.4" stroke-width="1.8"/></g>
<g transform="translate(12.6,225.5) rotate(-90)"><text x="15.5" y="4.2" font-size="17.3">I</text><text transform="translate(21.1,4.2) scale(1.1,1)" font-size="17.3">m</text></g>
</svg></body></html>
